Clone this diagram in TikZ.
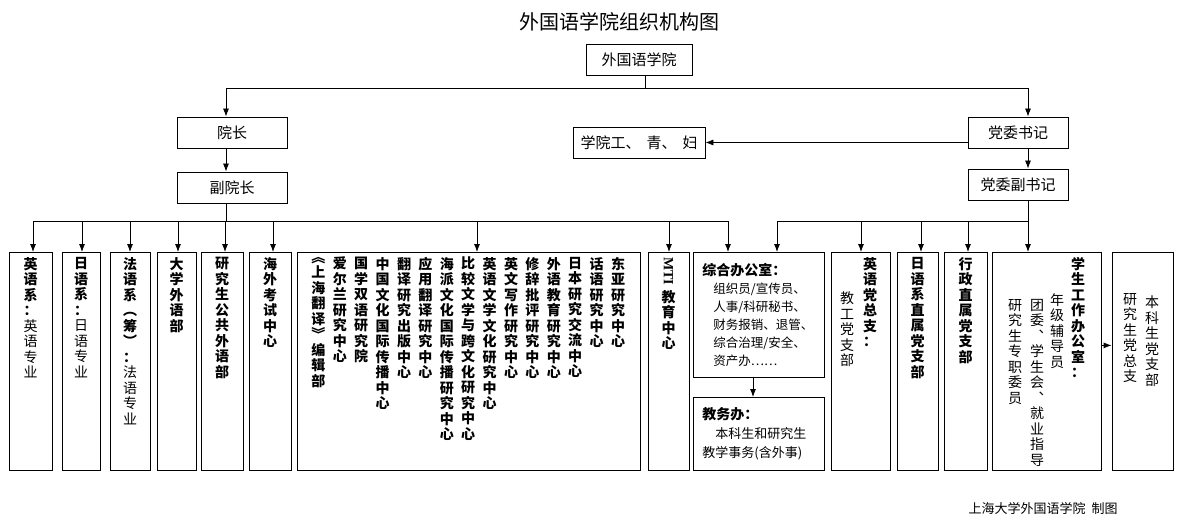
\documentclass[tikz,border=0pt]{standalone}
\usepackage{graphicx}
\usepackage{fontspec}
\setmainfont{Noto Sans CJK SC}
\newfontfamily\mtifont{Liberation Serif}
\usepackage{tikz}
\usetikzlibrary{arrows.meta}

\makeatletter
\def\vchars#1{\vchars@#1\relax}
\def\vchars@#1{\ifx\relax#1\else\hbox to 1em{\hss#1\hss}\expandafter\vchars@\fi}
\makeatother
\newcommand\vcol[2]{\vbox{\baselineskip=15.5pt\lineskiplimit=-\maxdimen
  \bfseries\expandafter\vchars\expandafter{#1}\mdseries\vchars{#2}}}
\newcommand\topcol[2]{\vbox to 208pt{\vcol{#1}{#2}\vfil}}

\begin{document}
\begin{tikzpicture}[x=1pt,y=-1pt,
    link/.style={line width=0.8pt},
    arr/.style={line width=0.8pt, -{Latex[length=8pt,width=6pt]}},
    box/.style={draw, line width=0.8pt, inner sep=2pt, minimum height=31pt, font=\fontsize{15pt}{18pt}\selectfont},
    colbox/.style={draw, line width=0.8pt, anchor=north, minimum height=218pt, inner xsep=0pt, inner ysep=5pt, font=\fontsize{14pt}{15.5pt}\selectfont},
    vtext/.style={anchor=north, inner sep=0pt, font=\fontsize{14pt}{15.5pt}\selectfont},
    textbox/.style={draw, line width=0.8pt, anchor=north west, minimum width=131pt, text width=113pt, inner xsep=9pt, align=left}]
\useasboundingbox (0,0) rectangle (1184,524);

\node[font=\fontsize{20pt}{24pt}\selectfont] (title) at (619,22) {外国语学院组织机构图};
\node[box, minimum width=106pt] (root) at (639,59.5) {外国语学院};
\node[box, minimum width=110pt] (yz) at (232,132.5) {院长};
\node[box, minimum width=110pt] (fyz) at (232,187.5) {副院长};
\node[box, minimum width=132pt] (gqf) at (639,142.5) {学院工、\hspace{6pt}青、\hspace{6pt}妇};
\node[box, minimum width=100pt] (sj) at (1018,132.5) {党委书记};
\node[box, minimum width=100pt] (fsj) at (1018,184.5) {党委副书记};

\node[colbox, minimum width=43pt] (yyx) at (30.5,252) {\topcol{英语系：}{英语专业}};
\node[colbox, minimum width=38pt] (ryx) at (81,252) {\topcol{日语系：}{日语专业}};
\node[colbox, minimum width=40pt] (fyx) at (130,252) {\topcol{法语系︵筹︶：}{法语专业}};
\node[colbox, minimum width=39pt] (dxwy) at (176.5,252) {\topcol{大学外语部}{}};
\node[colbox, minimum width=42pt] (yjswy) at (222,252) {\topcol{研究生公共外语部}{}};
\node[colbox, minimum width=42pt] (hwks) at (270,252) {\topcol{海外考试中心}{}};
\node[colbox, minimum width=343pt] (yjzx) at (468.5,252) {};
\foreach \lbl [count=\i] in {东亚研究中心,话语研究中心,日本研究交流中心,外语教育研究中心,修辞批评研究中心,英文写作研究中心,英语文学文化研究中心,比较文学与跨文化研究中心,海派文化国际传播研究中心,应用翻译研究中心,翻译研究出版中心,中国文化国际传播中心,国学双语研究院,爱尔兰研究中心,︽上海翻译︾编辑部}
  \node[vtext] (zx\i) at ({618-21.4*(\i-1)},257) {\vcol{\lbl}{}};
\node[colbox, minimum width=41pt] (mti) at (668.5,252)
  {\vbox to 208pt{\hbox to 14pt{\hss\rotatebox{-90}{\mtifont\bfseries MTI}\hss}\kern4pt\vcol{教育中心}{}\vfil}};

\node[textbox, minimum height=125pt, font=\fontsize{12.5pt}{18pt}\selectfont] (zh) at (693,252)
  {{\fontsize{14pt}{18pt}\selectfont\bfseries 综合办公室：}\\
   \hspace*{11pt}组织员/宣传员、\\
   \hspace*{11pt}人事/科研秘书、\\
   \hspace*{11pt}财务报销、退管、\\
   \hspace*{11pt}综合治理/安全、\\
   \hspace*{11pt}资产办……};
\node[textbox, minimum height=73pt, font=\fontsize{13pt}{19pt}\selectfont] (jw) at (693,397)
  {{\fontsize{14pt}{19pt}\selectfont\bfseries 教务办：}\\
   \hspace*{13pt}本科生和研究生\\
   教学事务(含外事)};

\node[colbox, minimum width=59pt] (ydz) at (860.5,252) {};
\node[vtext] (ydzA) at (870,257) {\vcol{英语党总支：}{}};
\node[vtext] (ydzB) at (847,292) {\vcol{}{教工党支部}};
\node[colbox, minimum width=41pt] (rzs) at (917.5,252) {\topcol{日语系直属党支部}{}};
\node[colbox, minimum width=43pt] (xz) at (965.5,252) {\topcol{行政直属党支部}{}};
\node[colbox, minimum width=109pt] (xs) at (1046.5,252) {};
\node[vtext] (xsA) at (1078,257) {\vcol{学生工作办公室：}{}};
\node[vtext] (xsB) at (1057,293) {\vcol{}{年级辅导员}};
\node[vtext] (xsC) at (1037,299) {\vcol{}{团委︑学生会︑就业指导}};
\node[vtext] (xsD) at (1015,299) {\vcol{}{研究生专职委员}};
\node[colbox, minimum width=61pt] (bk) at (1142.5,252) {};
\node[vtext] (bkA) at (1152,296) {\vcol{}{本科生党支部}};
\node[vtext] (bkB) at (1130,293) {\vcol{}{研究生党总支}};

\node[font=\fontsize{13pt}{15pt}\selectfont] (credit) at (1043,508) {上海大学外国语学院\hspace{6pt}制图};

\coordinate (topbus) at (645,88);
\coordinate (busL) at (226,221);
\coordinate (busR) at (1028,221);
\draw[link] ([xshift=6pt]root.south) -- (topbus);
\draw[arr] (topbus) -| ([xshift=-6pt]yz.north);
\draw[arr] (topbus) -| ([xshift=10pt]sj.north);
\draw[arr] ([xshift=-6pt]yz.south) -- ([xshift=-6pt]fyz.north);
\draw[arr] ([xshift=10pt]sj.south) -- ([xshift=10pt]fsj.north);
\draw[arr] (sj.west |- gqf.east) -- (gqf.east);
\draw[link] ([xshift=-6pt]fyz.south) -- (busL);
\draw[link] ([xshift=10pt]fsj.south) -- (busR);
\draw[link] ([xshift=2.5pt]yyx.north |- busL) -- ([xshift=35pt]zh.north west |- busL);
\draw[link] (busR) -- ([xshift=84pt]zh.north west |- busR);
\foreach \n/\dx in {yyx/2.5,ryx/1,fyx/0,dxwy/1.5,yjswy/3,hwks/3,yjzx/8.5,mti/0.5}
  \draw[arr] ([xshift=\dx pt]\n.north |- busL) -- ([xshift=\dx pt]\n.north);
\draw[arr] ([xshift=35pt]zh.north west |- busL) -- ([xshift=35pt]zh.north west);
\foreach \n/\dx in {ydz/0.5,rzs/3.5,xz/2.5,xs/-18.5}
  \draw[arr] ([xshift=\dx pt]\n.north |- busR) -- ([xshift=\dx pt]\n.north);
\draw[arr] ([xshift=84pt]zh.north west |- busR) -- ([xshift=84pt]zh.north west);
\draw[arr] ([xshift=60pt]zh.south west) -- ([xshift=60pt]jw.north west);
\draw[arr] ([yshift=16pt]xs.east) -- ([yshift=16pt]bk.west);
\end{tikzpicture}
\end{document}
